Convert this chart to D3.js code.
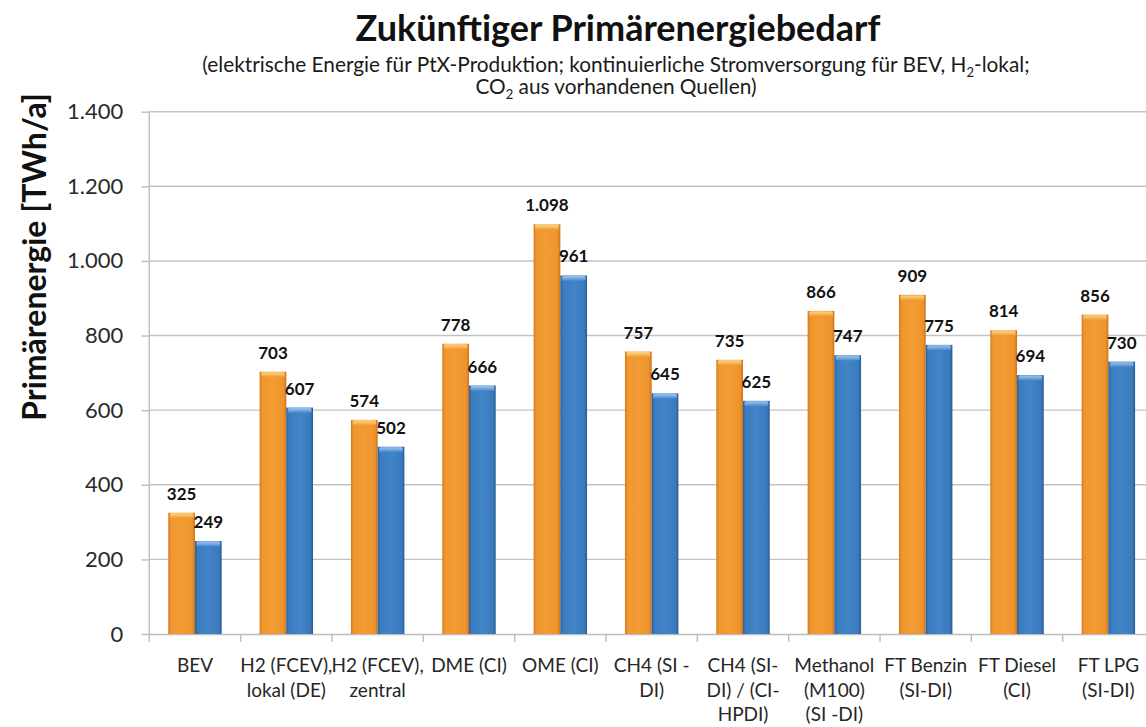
<!DOCTYPE html>
<html>
<head>
<meta charset="utf-8">
<script src="https://cdn.jsdelivr.net/npm/d3@7"></script>
<style>
  html, body { margin: 0; padding: 0; background: #fff; }
  svg { display: block; font-family: Lato, "Open Sans", sans-serif; }
</style>
</head>
<body>
<svg id="chart" width="1146" height="727"></svg>
<script>
// ---- data ----
const categories = [
  "BEV",
  "H2 (FCEV),|lokal (DE)",
  "H2 (FCEV),|zentral",
  "DME (CI)",
  "OME (CI)",
  "CH4 (SI -|DI)",
  "CH4 (SI-|DI) / (CI-|HPDI)",
  "Methanol|(M100)|(SI -DI)",
  "FT Benzin|(SI-DI)",
  "FT Diesel|(CI)",
  "FT LPG|(SI-DI)"
];
const seriesOrange = [325, 703, 574, 778, 1098, 757, 735, 866, 909, 814, 856];
const seriesBlue   = [249, 607, 502, 666, 961, 645, 625, 747, 775, 694, 730];
const yTickValues  = [0, 200, 400, 600, 800, 1000, 1200, 1400];
const titleText = "Zukünftiger Primärenergiebedarf";
const yAxisTitle = "Primärenergie [TWh/a]";

// ---- setup ----
const svg = d3.select("#chart");
const locale = d3.formatLocale({decimal: ",", thousands: ".", grouping: [3], currency: ["", "€"]});
const fmt = locale.format(",d");

const plotLeft = 149.3, plotTop = 111.7, plotBottom = 634, step = 91.34;
const plotRight = plotLeft + step * categories.length;

const x0 = d3.scaleBand().domain(categories).range([plotLeft, plotRight]).paddingInner(0).paddingOuter(0);
const x1 = d3.scaleBand().domain(["o", "b"]).range([0, x0.bandwidth()]).paddingInner(0).paddingOuter(0.71);
const y = d3.scaleLinear().domain([0, 1400]).range([plotBottom, plotTop]);

// gradients
const defs = svg.append("defs");
function hGrad(id, stops) {
  const g = defs.append("linearGradient").attr("id", id).attr("x1", "0").attr("x2", "1").attr("y1", "0").attr("y2", "0");
  stops.forEach(s => g.append("stop").attr("offset", s[0]).attr("stop-color", s[1]));
}
function vGrad(id, stops) {
  const g = defs.append("linearGradient").attr("id", id).attr("x1", "0").attr("x2", "0").attr("y1", "0").attr("y2", "1");
  stops.forEach(s => g.append("stop").attr("offset", s[0]).attr("stop-color", s[1]));
}
hGrad("gOrange", [["0", "#d27a1c"], ["0.1", "#f09630"], ["0.5", "#f39c33"], ["0.9", "#ee932b"], ["1", "#c9701a"]]);
hGrad("gBlue", [["0", "#2a5f98"], ["0.1", "#3b7cc0"], ["0.5", "#4184c7"], ["0.9", "#3a7abd"], ["1", "#285a92"]]);
vGrad("cOrange", [["0", "#fbd586"], ["0.6", "#f7b457"], ["1", "#f09630"]]);
vGrad("cBlue", [["0", "#9cc4ec"], ["0.6", "#6aa2da"], ["1", "#4184c7"]]);

// gridlines
const grid = svg.append("g");
grid.selectAll("line").data(yTickValues.filter(d => d > 0)).join("line")
  .attr("x1", plotLeft).attr("x2", plotRight)
  .attr("y1", d => y(d)).attr("y2", d => y(d))
  .attr("stroke", "#c3c3c3").attr("stroke-width", 1.4);

// y axis
const yAxis = d3.axisLeft(y).tickValues(yTickValues).tickFormat(d => fmt(d)).tickSizeInner(8).tickSizeOuter(0).tickPadding(18);
const gy = svg.append("g").attr("transform", `translate(${plotLeft},0)`).call(yAxis);
gy.select(".domain").attr("stroke", "#bdbdbd").attr("stroke-width", 1.4)
  .attr("d", `M0,${plotTop}V${plotBottom + 8}`);
gy.selectAll(".tick line").attr("stroke", "#bdbdbd").attr("stroke-width", 1.4);
gy.selectAll(".tick text").attr("font-size", 22).attr("fill", "#2a2a2a").attr("font-family", "Lato, sans-serif");

// x axis
const xAxis = d3.axisBottom(x0).tickSize(0).tickFormat("");
const gx = svg.append("g").attr("transform", `translate(0,${plotBottom})`).call(xAxis);
gx.select(".domain").attr("stroke", "#bdbdbd").attr("stroke-width", 1.4);
gx.selectAll(".tick").remove();
// category boundary ticks
gx.selectAll("line.bnd").data(categories.slice(1)).join("line").attr("class", "bnd")
  .attr("x1", d => x0(d)).attr("x2", d => x0(d)).attr("y1", 0).attr("y2", 8)
  .attr("stroke", "#bdbdbd").attr("stroke-width", 1.4);

// category labels
const lbl = svg.append("g").attr("font-size", 19).attr("fill", "#262626").attr("text-anchor", "middle");
categories.forEach(c => {
  const t = lbl.append("text").attr("x", x0(c) + x0.bandwidth() / 2).attr("y", 672);
  c.split("|").forEach((ln, i) => {
    t.append("tspan").attr("x", x0(c) + x0.bandwidth() / 2).attr("dy", i === 0 ? 0 : 24.5).text(ln);
  });
});

// bars
const bars = svg.append("g");
const series = [
  {key: "o", vals: seriesOrange, body: "url(#gOrange)", cap: "url(#cOrange)"},
  {key: "b", vals: seriesBlue, body: "url(#gBlue)", cap: "url(#cBlue)"}
];
series.forEach(s => {
  const g = bars.append("g");
  g.selectAll("rect.body").data(categories).join("rect").attr("class", "body")
    .attr("x", d => x0(d) + x1(s.key))
    .attr("width", x1.bandwidth())
    .attr("y", (d, i) => y(s.vals[i]))
    .attr("height", (d, i) => y(0) - y(s.vals[i]))
    .attr("fill", s.body);
  g.selectAll("rect.cap").data(categories).join("rect").attr("class", "cap")
    .attr("x", d => x0(d) + x1(s.key) + 1.5)
    .attr("width", x1.bandwidth() - 3)
    .attr("y", (d, i) => y(s.vals[i]) + 0.5)
    .attr("height", 5)
    .attr("rx", 1.5)
    .attr("fill", s.cap);
  g.selectAll("text.val").data(categories).join("text").attr("class", "val")
    .attr("x", d => x0(d) + x1(s.key) + x1.bandwidth() / 2)
    .attr("y", (d, i) => y(s.vals[i]) - 13)
    .attr("text-anchor", "middle")
    .attr("font-size", 17).attr("font-weight", 700).attr("fill", "#111")
    .text((d, i) => fmt(s.vals[i]));
});

// titles
svg.append("text").attr("x", 618).attr("y", 41).attr("text-anchor", "middle")
  .attr("font-size", 36).attr("font-weight", 700).attr("fill", "#111").text(titleText);

const sub1 = svg.append("text").attr("x", 616).attr("y", 72).attr("text-anchor", "middle")
  .attr("font-size", 20.8).attr("fill", "#1a1a1a");
sub1.append("tspan").text("(elektrische Energie für PtX-Produktion; kontinuierliche Stromversorgung für BEV, H");
sub1.append("tspan").attr("font-size", 13).attr("dy", 5).text("2");
sub1.append("tspan").attr("dy", -5).text("-lokal;");

const sub2 = svg.append("text").attr("x", 616).attr("y", 94).attr("text-anchor", "middle")
  .attr("font-size", 20.8).attr("fill", "#1a1a1a");
sub2.append("tspan").text("CO");
sub2.append("tspan").attr("font-size", 13).attr("dy", 5).text("2");
sub2.append("tspan").attr("dy", -5).text(" aus vorhandenen Quellen)");

svg.append("text").attr("transform", "translate(46,257) rotate(-90)").attr("text-anchor", "middle")
  .attr("font-size", 32).attr("font-weight", 700).attr("fill", "#111").text(yAxisTitle);
</script>
</body>
</html>
